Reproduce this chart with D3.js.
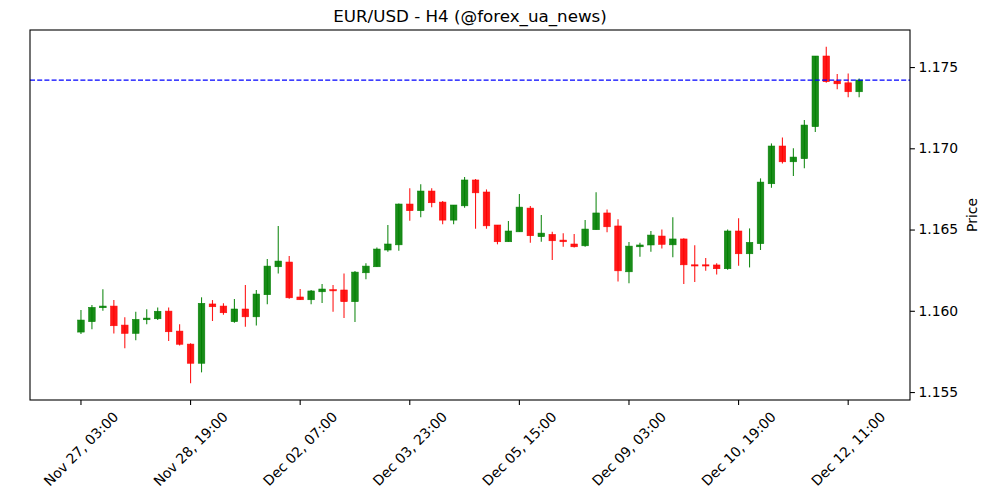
<!DOCTYPE html>
<html>
<head>
<meta charset="utf-8">
<script src="https://cdn.jsdelivr.net/npm/d3@7"></script>
<style>
  body { margin: 0; background: #fff; }
  text { font-family: "DejaVu Sans", sans-serif; fill: #000; }
</style>
</head>
<body>
<div id="chart"></div>
<script>
// OHLC svijeće (H4), redom po indeksu
const opens = [1.15869,1.15933,1.16019,1.16029,1.15912,1.15861,1.15945,1.15951,1.15998,1.15875,
  1.15795,1.15677,1.16042,1.16029,1.15933,1.16011,1.15963,1.16099,1.16271,1.16300,
  1.16085,1.16068,1.16117,1.16130,1.16128,1.16056,1.16234,1.16271,1.16374,1.16406,
  1.16657,1.16616,1.16737,1.16669,1.16558,1.16646,1.16805,1.16731,1.16528,1.16425,
  1.16486,1.16632,1.16456,1.16470,1.16435,1.16411,1.16400,1.16499,1.16602,1.16522,
  1.16240,1.16394,1.16405,1.16460,1.16406,1.16442,1.16283,1.16283,1.16282,1.16259,
  1.16491,1.16351,1.16413,1.16782,1.17014,1.16917,1.16936,1.17133,1.17568,1.17414,
  1.17403,1.17348];
const highs = [1.16005,1.16035,1.16132,1.16066,1.15960,1.15994,1.16009,1.16021,1.16021,1.15917,
  1.15800,1.16083,1.16066,1.16046,1.16072,1.16158,1.16128,1.16318,1.16522,1.16337,
  1.16134,1.16128,1.16165,1.16158,1.16230,1.16245,1.16292,1.16390,1.16528,1.16661,
  1.16754,1.16778,1.16754,1.16675,1.16651,1.16823,1.16811,1.16747,1.16528,1.16552,
  1.16718,1.16645,1.16589,1.16486,1.16477,1.16472,1.16558,1.16729,1.16624,1.16563,
  1.16423,1.16419,1.16491,1.16501,1.16575,1.16446,1.16403,1.16325,1.16292,1.16501,
  1.16569,1.16507,1.16815,1.17030,1.17067,1.17000,1.17174,1.17568,1.17625,1.17457,
  1.17461,1.17430];
const lows = [1.15857,1.15886,1.16000,1.15861,1.15769,1.15818,1.15917,1.15943,1.15814,1.15787,
  1.15554,1.15621,1.15937,1.15976,1.15926,1.15902,1.15910,1.16040,1.16230,1.16074,
  1.16066,1.16040,1.16048,1.15994,1.15955,1.15931,1.16194,1.16271,1.16363,1.16370,
  1.16554,1.16575,1.16637,1.16532,1.16532,1.16634,1.16505,1.16505,1.16409,1.16425,
  1.16486,1.16419,1.16425,1.16312,1.16394,1.16390,1.16394,1.16499,1.16483,1.16181,
  1.16169,1.16333,1.16363,1.16384,1.16329,1.16165,1.16177,1.16246,1.16224,1.16253,
  1.16277,1.16267,1.16374,1.16757,1.16907,1.16829,1.16877,1.17100,1.17403,1.17363,
  1.17314,1.17314];
const closes = [1.15943,1.16021,1.16029,1.15908,1.15861,1.15947,1.15955,1.15997,1.15871,1.15794,
  1.15677,1.16046,1.16025,1.15988,1.16011,1.15963,1.16103,1.16275,1.16306,1.16080,
  1.16068,1.16122,1.16134,1.16123,1.16056,1.16238,1.16275,1.16380,1.16411,1.16657,
  1.16616,1.16737,1.16665,1.16558,1.16651,1.16805,1.16726,1.16523,1.16425,1.16491,
  1.16638,1.16462,1.16478,1.16431,1.16425,1.16394,1.16503,1.16602,1.16517,1.16246,
  1.16398,1.16405,1.16466,1.16409,1.16442,1.16283,1.16277,1.16277,1.16259,1.16491,
  1.16351,1.16421,1.16792,1.17014,1.16917,1.16946,1.17143,1.17568,1.17410,1.17397,
  1.17348,1.17420];

const tickIndexes = [0, 10, 20, 30, 40, 50, 60, 70];
const tickLabels = ["Nov 27, 03:00", "Nov 28, 19:00", "Dec 02, 07:00", "Dec 03, 23:00",
  "Dec 05, 15:00", "Dec 09, 03:00", "Dec 10, 19:00", "Dec 12, 11:00"];
const priceTicks = [1.155, 1.160, 1.165, 1.170, 1.175];
const currentPrice = 1.1742;

const titleText = "EUR/USD - H4 (@forex_ua_news)";

// Dimenzije
const dim = {
  sirina: 1000,
  visina: 500,
  margine: { top: 30, right: 90, bottom: 100, left: 30 }
};
dim.grSirina = dim.sirina - dim.margine.left - dim.margine.right;
dim.grVisina = dim.visina - dim.margine.top - dim.margine.bottom;

const svg = d3.select("#chart").append("svg")
  .attr("width", dim.sirina)
  .attr("height", dim.visina);

const x = d3.scaleLinear()
  .domain([-4.65, 75.64])
  .range([dim.margine.left, dim.margine.left + dim.grSirina]);

const y = d3.scaleLinear()
  .domain([1.15451, 1.17728])
  .range([dim.margine.top + dim.grVisina, dim.margine.top]);

const candles = opens.map((o, i) => ({
  i, o, h: highs[i], l: lows[i], c: closes[i]
}));

const boja = d => d.c >= d.o ? "#008000" : "#ff0000";
const bodyW = 0.6 * (x(1) - x(0));

const plot = svg.append("g");

// Fitilji
plot.selectAll(".wick")
  .data(candles)
  .enter().append("line")
  .attr("class", "wick")
  .attr("x1", d => x(d.i))
  .attr("x2", d => x(d.i))
  .attr("y1", d => y(d.h))
  .attr("y2", d => y(d.l))
  .attr("stroke", boja)
  .attr("stroke-opacity", 0.9)
  .attr("stroke-width", 1.1);

// Tijela
plot.selectAll(".body")
  .data(candles)
  .enter().append("rect")
  .attr("class", "body")
  .attr("x", d => x(d.i) - bodyW / 2)
  .attr("width", bodyW)
  .attr("y", d => y(Math.max(d.o, d.c)))
  .attr("height", d => Math.max(1.2, Math.abs(y(d.o) - y(d.c))))
  .attr("fill", boja)
  .attr("fill-opacity", 0.9)
  .attr("stroke", boja)
  .attr("stroke-opacity", 0.9)
  .attr("stroke-width", 0.6);

// Trenutna cijena
svg.append("line")
  .attr("x1", dim.margine.left)
  .attr("x2", dim.margine.left + dim.grSirina)
  .attr("y1", y(currentPrice))
  .attr("y2", y(currentPrice))
  .attr("stroke", "#0000ff")
  .attr("stroke-width", 1.2)
  .attr("stroke-dasharray", "5,2.2");

// Okvir
svg.append("rect")
  .attr("x", dim.margine.left)
  .attr("y", dim.margine.top)
  .attr("width", dim.grSirina)
  .attr("height", dim.grVisina)
  .attr("fill", "none")
  .attr("stroke", "#000")
  .attr("stroke-width", 1.1);

// Y os desno
const yOs = svg.append("g")
  .attr("transform", `translate(${dim.margine.left + dim.grSirina},0)`)
  .call(d3.axisRight(y).tickValues(priceTicks).tickFormat(d3.format(".3f"))
    .tickSize(4.9).tickPadding(3.5));
yOs.select(".domain").remove();
yOs.selectAll("line").attr("stroke", "#000").attr("stroke-width", 1.1);
yOs.selectAll("text").attr("font-size", 13.9).attr("font-family", "DejaVu Sans").attr("fill", "#000");

// X os
const xOs = svg.append("g")
  .attr("transform", `translate(0,${dim.margine.top + dim.grVisina})`);
xOs.selectAll("line")
  .data(tickIndexes)
  .enter().append("line")
  .attr("x1", d => x(d)).attr("x2", d => x(d))
  .attr("y1", 0).attr("y2", 4.9)
  .attr("stroke", "#000").attr("stroke-width", 1.1);

xOs.selectAll("text")
  .data(tickIndexes)
  .enter().append("text")
  .attr("font-size", 13.9)
  .attr("text-anchor", "middle")
  .attr("dominant-baseline", "central")
  .text((d, i) => tickLabels[i])
  .attr("transform", function (d) {
    const L = this.getComputedTextLength();
    const h = 13.9 * 1.17;
    const half = (L + h) * Math.SQRT1_2 / 2;
    return `translate(${x(d)},${8.4 + half}) rotate(-45)`;
  });

// Naslov i oznaka osi
svg.append("text")
  .attr("x", dim.margine.left + dim.grSirina / 2)
  .attr("y", 22)
  .attr("text-anchor", "middle")
  .attr("font-size", 16.7)
  .text(titleText);

svg.append("text")
  .attr("transform", `translate(977,${dim.margine.top + dim.grVisina / 2}) rotate(-90)`)
  .attr("text-anchor", "middle")
  .attr("font-size", 13.9)
  .text("Price");
</script>
</body>
</html>
